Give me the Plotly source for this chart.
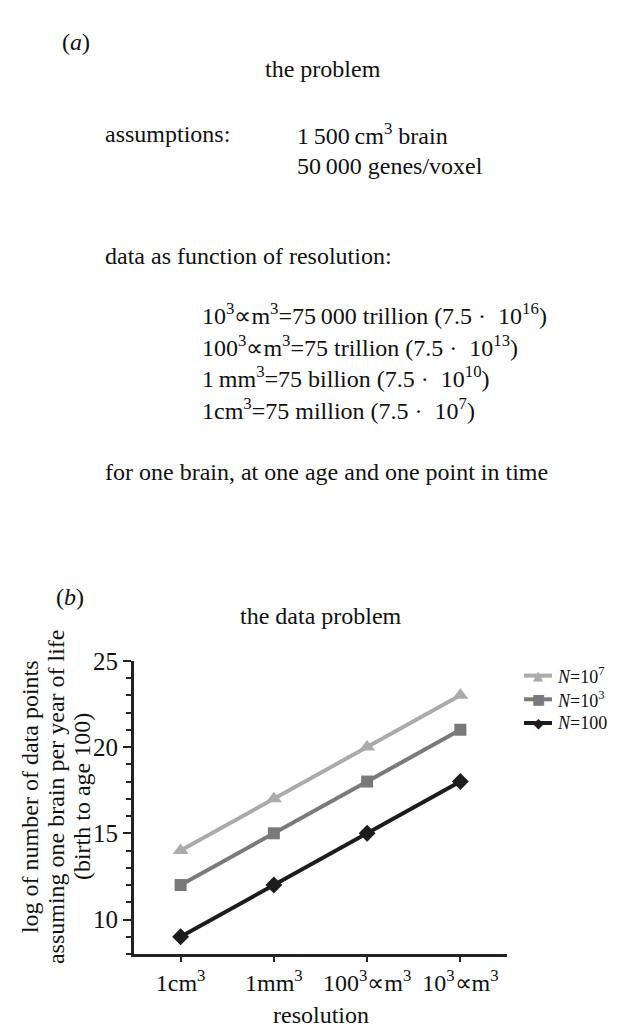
import plotly.graph_objects as go

W, H = 626, 1027

# ---- data ----
categories = ["1cm3", "1mm3", "100^3um3", "10^3um3"]
tick_labels = ["1cm<sup>3</sup>", "1mm<sup>3</sup>", "100<sup>3</sup>\u221dm<sup>3</sup>", "10<sup>3</sup>\u221dm<sup>3</sup>"]
series_names = ["<i>N</i>=10<sup>7</sup>", "<i>N</i>=10<sup>3</sup>", "<i>N</i>=100"]
vals_n1e7 = [14, 17, 20, 23]
vals_n1e3 = [12, 15, 18, 21]
vals_n100 = [9, 12, 15, 18]
y_ticks = [10, 15, 20, 25]

FONT = "Liberation Serif"
FS = 24
TXT = "#111111"

def px(x):
    return x / W

def py(y):
    return 1 - y / H

fig = go.Figure()
styles = [
    dict(color="#ababab", symbol="triangle-up", size=14, glyph="\u25b2", gsize=13),
    dict(color="#7a7a7a", symbol="square", size=12, glyph="\u25a0", gsize=14),
    dict(color="#1c1c1c", symbol="diamond", size=13, glyph="\u25c6", gsize=14),
]
for name, vals, st in zip(series_names, [vals_n1e7, vals_n1e3, vals_n100], styles):
    fig.add_trace(go.Scatter(
        x=categories, y=vals, name=name, mode="lines+markers",
        line=dict(color=st["color"], width=4),
        marker=dict(color=st["color"], symbol=st["symbol"], size=st["size"]),
        showlegend=False,
    ))

fig.update_layout(
    width=W, height=H,
    margin=dict(l=0, r=0, t=0, b=0),
    paper_bgcolor="white", plot_bgcolor="white",
    font=dict(family=FONT, size=FS, color=TXT),
    showlegend=False,
    xaxis=dict(domain=[px(126), px(499)], range=[-0.5, 3.5],
               tickvals=categories, ticktext=tick_labels,
               ticks="outside", ticklen=5, tickwidth=2, tickcolor="#222",
               showline=True, linewidth=3, linecolor="#222",
               showgrid=False, zeroline=False,
               tickfont=dict(family=FONT, size=FS, color=TXT)),
    yaxis=dict(domain=[py(945), py(648)], range=[8, 25],
               tickvals=y_ticks,
               ticks="outside", ticklen=8, tickwidth=2, tickcolor="#222",
               minor=dict(dtick=1, ticks="outside", ticklen=5, tickwidth=2, tickcolor="#222", showgrid=False),
               showline=True, linewidth=3, linecolor="#222",
               showgrid=False, zeroline=False,
               tickfont=dict(family=FONT, size=25, color=TXT)),
)

def txt(text, x, y, anchor="left", size=FS, angle=0, color=TXT, family=FONT):
    fig.add_annotation(text=text, x=px(x), y=py(y), xref="paper", yref="paper",
                       xanchor=anchor, yanchor="middle", showarrow=False,
                       textangle=angle, borderpad=0,
                       font=dict(family=family, size=size, color=color))

# legend (drawn manually for tight row spacing)
legend_rows = [663, 687, 711]
for name, st, ry in zip(series_names, styles, legend_rows):
    fig.add_shape(type="line", xref="paper", yref="paper",
                  x0=px(516), x1=px(544), y0=py(ry), y1=py(ry),
                  line=dict(color=st["color"], width=4))
    txt(st["glyph"], 530, ry, anchor="center", size=st["gsize"], color=st["color"], family="DejaVu Sans")
    txt(name, 548, ry, size=18)

# panel (a)
txt("(<i>a</i>)", 53, 21)
txt("the problem", 315, 49, anchor="center")
txt("assumptions:", 96, 114)
txt("1\u2009500\u2009cm<sup>3</sup> brain", 288, 114)
txt("50\u2009000 genes/voxel", 288, 147)
txt("data as function of resolution:", 96, 238)
txt("10<sup>3</sup>\u221dm<sup>3</sup>=75\u2009000 trillion (7.5 \u00b7  10<sup>16</sup>)", 193, 297)
txt("100<sup>3</sup>\u221dm<sup>3</sup>=75 trillion (7.5 \u00b7  10<sup>13</sup>)", 193, 329)
txt("1\u2009mm<sup>3</sup>=75 billion (7.5 \u00b7  10<sup>10</sup>)", 193, 361)
txt("1cm<sup>3</sup>=75 million (7.5 \u00b7  10<sup>7</sup>)", 193, 393)
txt("for one brain, at one age and one point in time", 96, 457)

# panel (b)
txt("(<i>b</i>)", 47, 583)
txt("the data problem", 313, 603, anchor="center")
ytitle_lines = ["log of number of data points", "assuming one brain per year of life", "(birth to age 100)"]
for line, lx in zip(ytitle_lines, [22, 48, 74]):
    txt(line, lx, 786, anchor="center", angle=-90)
txt("resolution", 313, 1007, anchor="center")

fig.write_html("out.html")
